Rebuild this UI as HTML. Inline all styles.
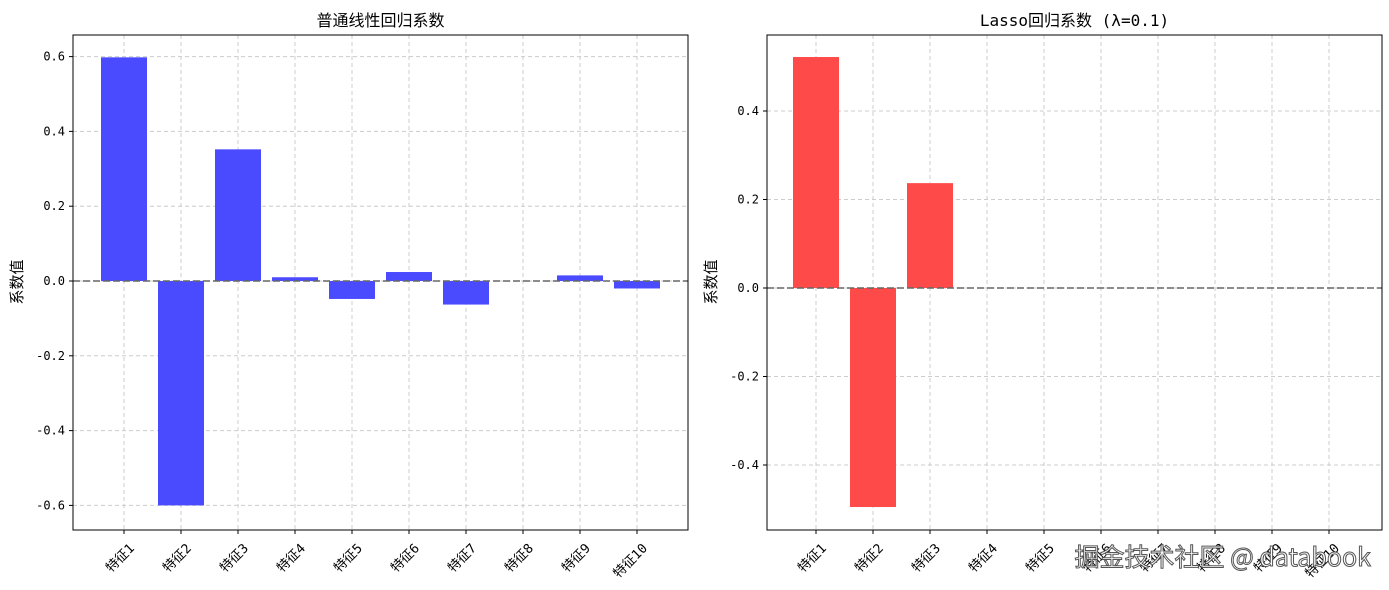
<!DOCTYPE html>
<html><head><meta charset="utf-8">
<style>
body{margin:0;background:#fff;}
svg{display:block;font-family:"DejaVu Sans Mono","Liberation Mono","Noto Sans CJK SC",monospace;}
</style></head>
<body>
<svg id="c" width="1389" height="590" viewBox="0 0 1389 590"></svg>
<script>
const categories=["特征1","特征2","特征3","特征4","特征5","特征6","特征7","特征8","特征9","特征10"];
const olsValues=[0.598,-0.600,0.352,0.010,-0.048,0.024,-0.063,0.000,0.015,-0.020];
const lassoValues=[0.522,-0.495,0.237,0,0,0,0,0,0,0];
const olsTicks=[0.6,0.4,0.2,0.0,-0.2,-0.4,-0.6];
const lassoTicks=[0.4,0.2,0.0,-0.2,-0.4];
const NS="http://www.w3.org/2000/svg";
const svg=document.getElementById('c');
function el(t,a,p){const e=document.createElementNS(NS,t);for(const k in a)e.setAttribute(k,a[k]);(p||svg).appendChild(e);return e;}
function panel(o){
  const g=el('g',{});
  
  
  const L=o.x0,R=o.x1,T=35,B=530;
  const y=v=>o.zeroY-v*o.ppu;
  const x=i=>o.firstX+i*57;
  o.ticks.forEach(t=>{const l=el('line',{x1:L,x2:R,y1:y(t),y2:y(t),stroke:'#ccc','stroke-dasharray':'4,3','stroke-width':1},g);
    });
  categories.forEach((c,i)=>{const l=el('line',{x1:x(i),x2:x(i),y1:T,y2:B,stroke:'#ccc','stroke-dasharray':'4,3','stroke-width':1},g);
    });
  o.values.forEach((v,i)=>{const top=Math.min(y(v),y(0)),h=Math.abs(y(v)-y(0));
    const r=el('rect',{x:x(i)-23,y:top,width:46,height:h,fill:o.color},g);
    });
  const z=el('line',{x1:L,x2:R,y1:y(0),y2:y(0),stroke:'#666','stroke-dasharray':'7,3','stroke-width':1.5},g);
  
  const f=el('rect',{x:L,y:T,width:R-L,height:B-T,fill:'none',stroke:'#000','stroke-width':1},g);
  
  o.ticks.forEach(t=>{el('line',{x1:L-4,x2:L,y1:y(t),y2:y(t),stroke:'#000'},g);
    const tx=el('text',{x:L-8,y:y(t)+4,'text-anchor':'end','font-size':12},g);tx.textContent=t.toFixed(1);
    });
  categories.forEach((c,i)=>{el('line',{x1:x(i),x2:x(i),y1:B,y2:B+4,stroke:'#000'},g);
    const ax=x(i)+11,ay=B+19;
    const tx=el('text',{x:ax,y:ay,'text-anchor':'end','font-size':13,transform:`rotate(-45 ${ax} ${ay})`},g);tx.textContent=c;
    });
  const yt=el('text',{x:o.ylabX,y:282,'text-anchor':'middle','font-size':15,transform:`rotate(-90 ${o.ylabX} 282)`,'font-family':'"Noto Sans CJK SC",sans-serif'},g);
  yt.textContent='系数值';
  const tt=el('text',{x:(L+R)/2,y:26,'text-anchor':'middle','font-size':16},g);
  tt.textContent=o.title;
}
panel({name:'ols-panel',x0:73,x1:688,zeroY:281,ppu:374,firstX:124,values:olsValues,ticks:olsTicks,color:'#4a4aff',title:'普通线性回归系数',ylabX:22});
panel({name:'lasso-panel',x0:767,x1:1382,zeroY:288,ppu:442.5,firstX:816,values:lassoValues,ticks:lassoTicks,color:'#ff4a4a',title:'Lasso回归系数 (λ=0.1)',ylabX:716});
const w=el('text',{x:1371,y:566,'text-anchor':'end','font-size':25,fill:'#fff',stroke:'#555','stroke-width':1,'font-family':'"Noto Sans CJK SC",sans-serif'});
w.textContent='掘金技术社区 @ databook';


</script>
</body></html>
